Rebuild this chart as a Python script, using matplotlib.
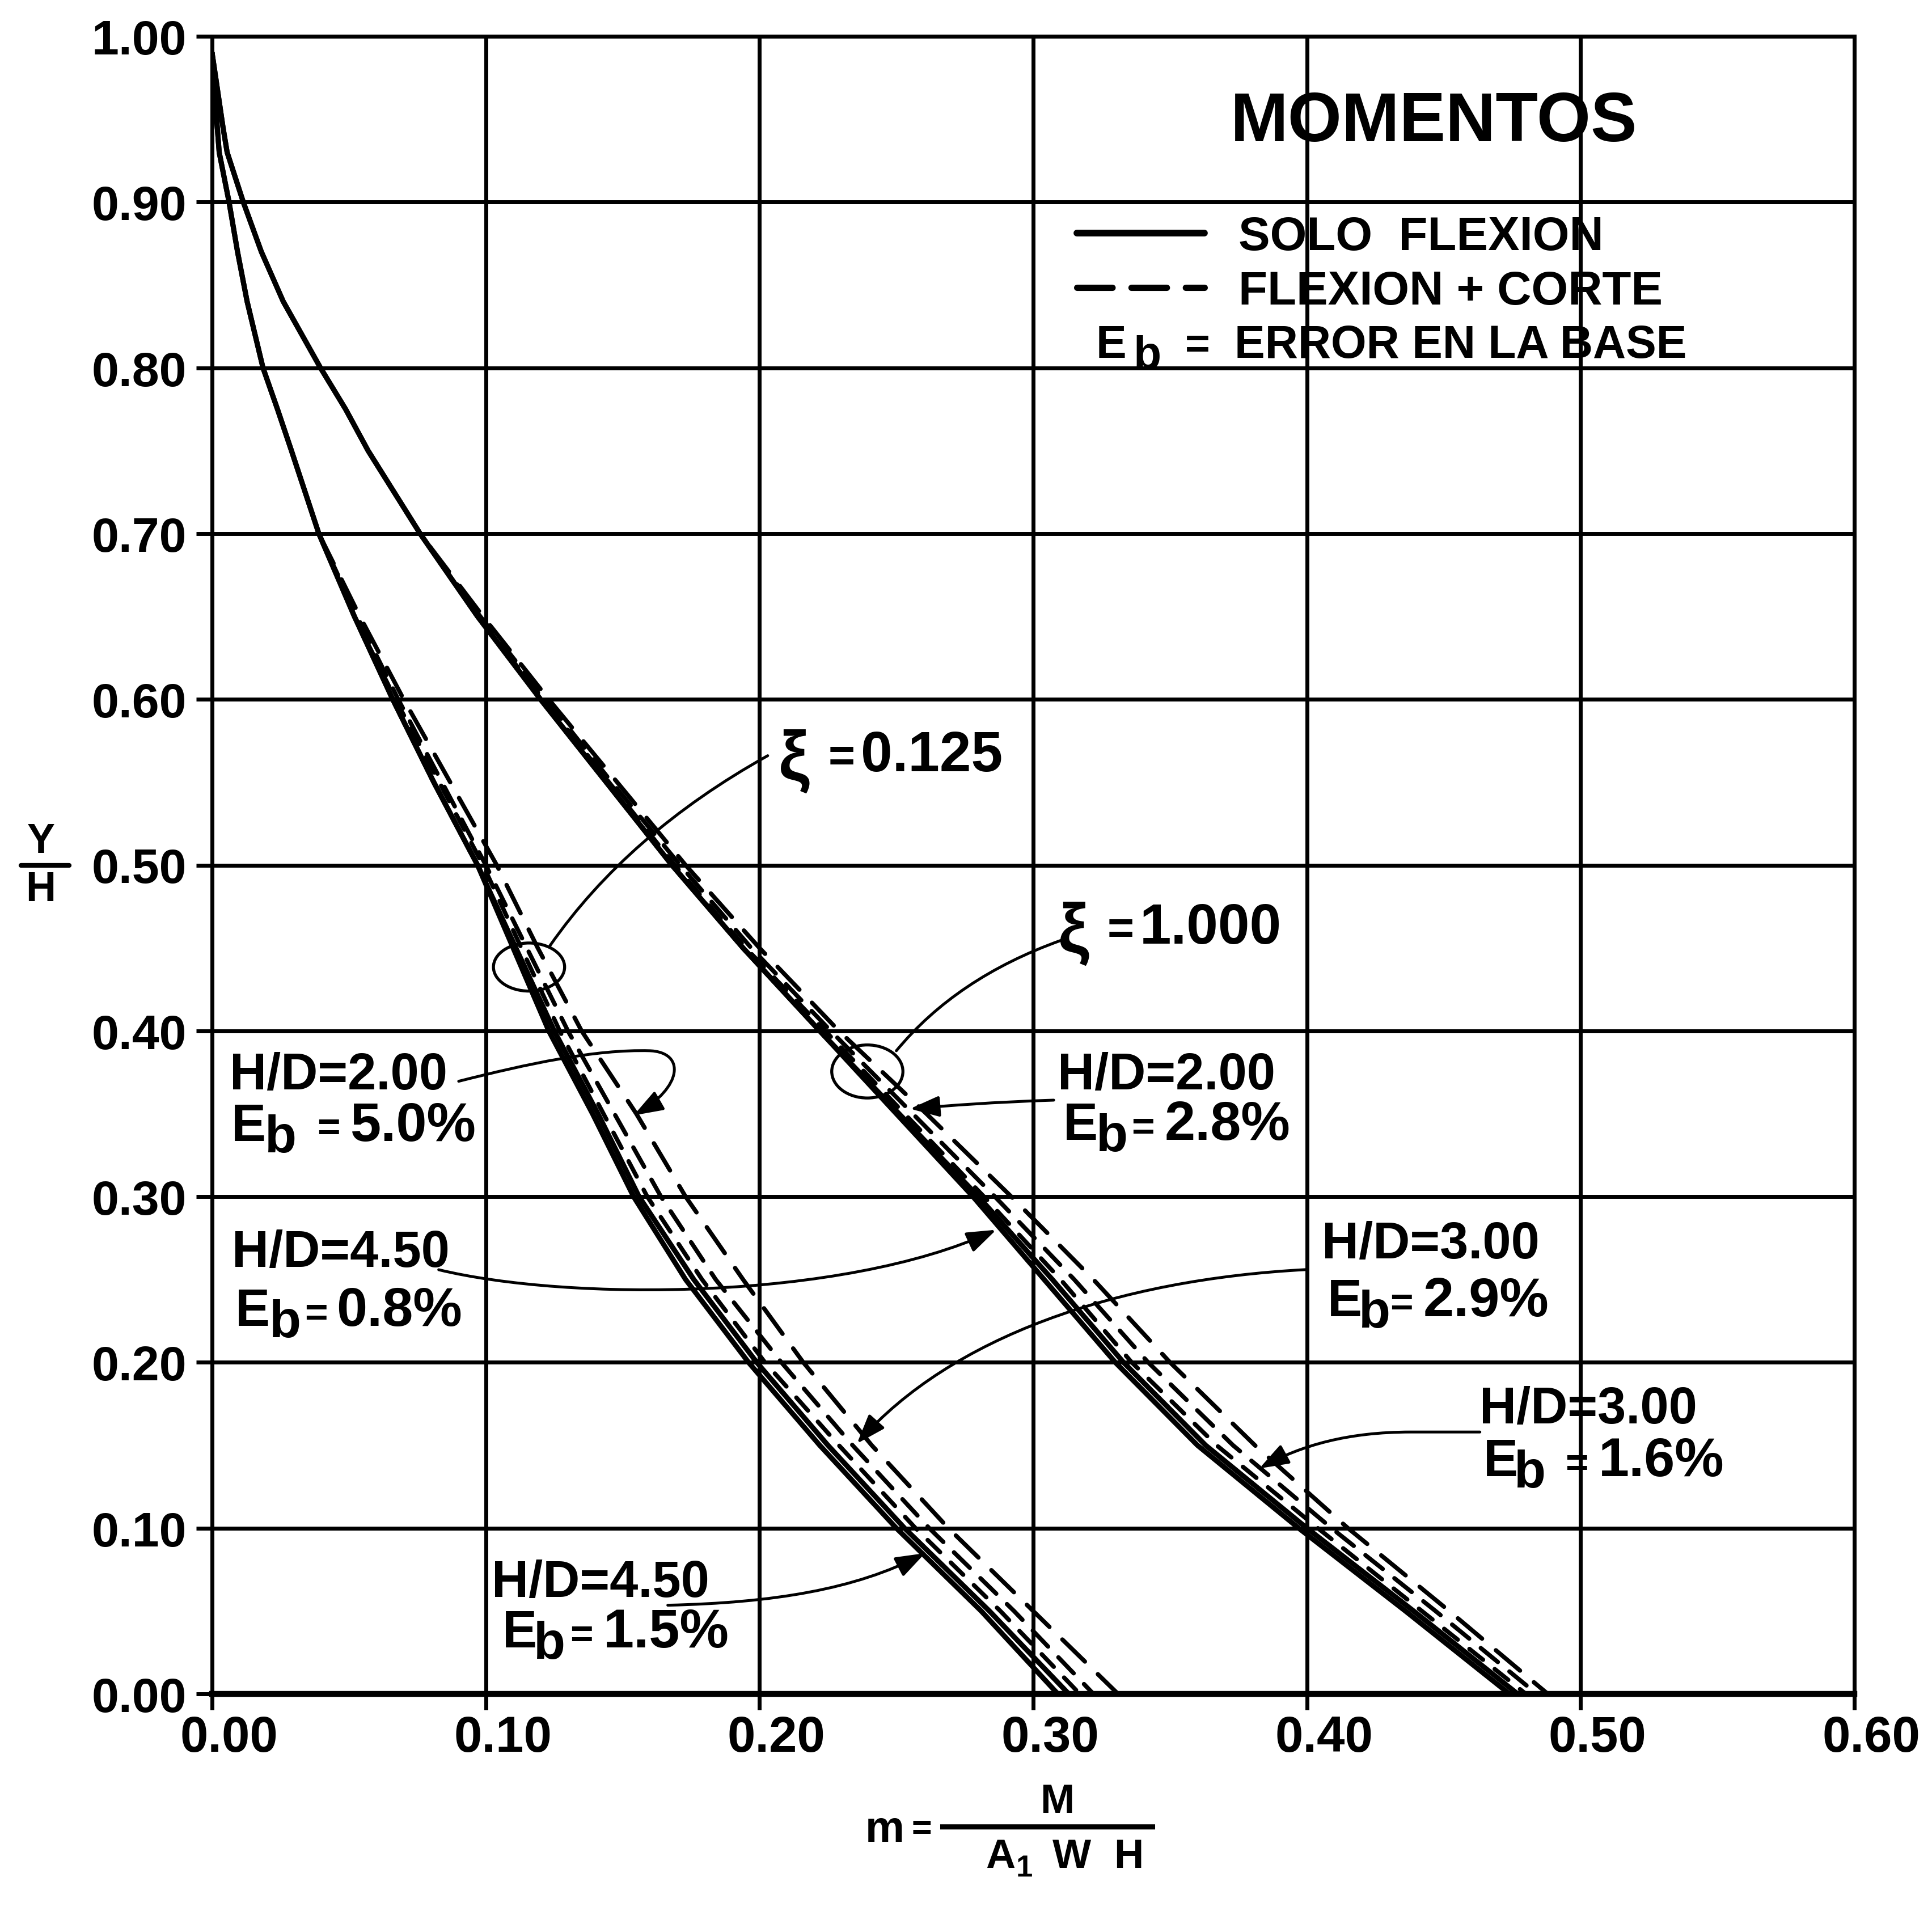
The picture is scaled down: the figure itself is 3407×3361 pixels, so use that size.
import matplotlib
matplotlib.use("Agg")
import matplotlib.pyplot as plt
from matplotlib.path import Path
from matplotlib.patches import FancyArrowPatch, Ellipse
from matplotlib.lines import Line2D
from matplotlib.transforms import ScaledTranslation

plt.rcParams['font.family'] = ['Liberation Sans', 'DejaVu Sans']
plt.rcParams['font.weight'] = 'bold'
plt.rcParams['lines.scale_dashes'] = False

# ---------------- data ----------------
Y_LEVELS = [0.99, 0.945, 0.93, 0.90, 0.87, 0.84, 0.80, 0.775, 0.75, 0.70, 0.65, 0.60,
            0.55, 0.50, 0.45, 0.40, 0.35, 0.30, 0.25, 0.20, 0.15, 0.10, 0.05, 0.00]

# xi = 0.125 group
XI0125_SOLID_A = [0.000, 0.0019, 0.0026, 0.0062, 0.0093, 0.0128, 0.0186, 0.0239, 0.029, 0.039, 0.052, 0.066,
                  0.081, 0.097, 0.110, 0.123, 0.139, 0.154, 0.173, 0.196, 0.222, 0.250, 0.281, 0.309]
XI0125_SOLID_B = [0.000, 0.0019, 0.0026, 0.0062, 0.0093, 0.0128, 0.0186, 0.0239, 0.029, 0.039, 0.052, 0.066,
                  0.081, 0.097, 0.111, 0.125, 0.141, 0.156, 0.176, 0.199, 0.225, 0.253, 0.284, 0.313]
XI0125_HD450 = [0.000, 0.0019, 0.0026, 0.0062, 0.0093, 0.0128, 0.0186, 0.0239, 0.029, 0.039, 0.052, 0.067,
                0.083, 0.099, 0.113, 0.127, 0.143, 0.159, 0.179, 0.202, 0.229, 0.257, 0.288, 0.317]
XI0125_HD300 = [0.000, 0.0019, 0.0026, 0.0062, 0.0093, 0.0128, 0.0186, 0.0239, 0.029, 0.039, 0.053, 0.068,
                0.084, 0.100, 0.115, 0.130, 0.147, 0.164, 0.184, 0.208, 0.234, 0.262, 0.293, 0.322]
XI0125_HD200 = [0.000, 0.0019, 0.0026, 0.0062, 0.0093, 0.0128, 0.0186, 0.0239, 0.029, 0.039, 0.054, 0.070,
                0.087, 0.104, 0.119, 0.135, 0.155, 0.173, 0.194, 0.216, 0.241, 0.269, 0.300, 0.331]

# xi = 1.000 group
XI1000_SOLID_A = [0.000, 0.0040, 0.0055, 0.0114, 0.018, 0.026, 0.0396, 0.0488, 0.057, 0.076, 0.097, 0.120,
                  0.144, 0.168, 0.194, 0.222, 0.250, 0.278, 0.304, 0.330, 0.360, 0.397, 0.436, 0.474]
XI1000_SOLID_B = [0.000, 0.0040, 0.0055, 0.0114, 0.018, 0.026, 0.0396, 0.0488, 0.057, 0.076, 0.097, 0.120,
                  0.144, 0.168, 0.194, 0.222, 0.251, 0.280, 0.307, 0.333, 0.363, 0.400, 0.439, 0.477]
XI1000_HD450 = [0.000, 0.0040, 0.0055, 0.0114, 0.018, 0.026, 0.0396, 0.0488, 0.057, 0.076, 0.097, 0.121,
                0.145, 0.169, 0.195, 0.224, 0.253, 0.282, 0.310, 0.336, 0.367, 0.404, 0.442, 0.480]
XI1000_HD300 = [0.000, 0.0040, 0.0055, 0.0114, 0.018, 0.026, 0.0396, 0.0488, 0.057, 0.076, 0.098, 0.122,
                0.146, 0.171, 0.197, 0.226, 0.256, 0.286, 0.315, 0.342, 0.373, 0.409, 0.447, 0.484]
XI1000_HD200 = [0.000, 0.0040, 0.0055, 0.0114, 0.018, 0.026, 0.0396, 0.0488, 0.057, 0.076, 0.099, 0.123,
                0.148, 0.173, 0.200, 0.229, 0.261, 0.292, 0.322, 0.350, 0.381, 0.415, 0.452, 0.488]

X_TICKS = [0.0, 0.1, 0.2, 0.3, 0.4, 0.5, 0.6]
X_TICK_LABELS = ["0.00", "0.10", "0.20", "0.30", "0.40", "0.50", "0.60"]
Y_TICKS = [0.0, 0.1, 0.2, 0.3, 0.4, 0.5, 0.6, 0.7, 0.8, 0.9, 1.0]
Y_TICK_LABELS = ["0.00", "0.10", "0.20", "0.30", "0.40", "0.50", "0.60", "0.70", "0.80", "0.90", "1.00"]

LEGEND_LABELS = ["SOLO  FLEXION", "FLEXION + CORTE"]

# ---------------- figure ----------------
W, H = 3407, 3362
DPI = 100
fig = plt.figure(figsize=(W / DPI, H / DPI), dpi=DPI, facecolor='white')
ax = fig.add_axes([374 / W, (H - 2988) / H, 2896 / W, 2923 / H])
ax.set_xlim(0.0, 0.6)
ax.set_ylim(0.0, 1.0)

SOLID_LW = 6.5
DASH_LW = 5.5
STYLE_SOLID = dict(color='black', lw=SOLID_LW, solid_capstyle='round', solid_joinstyle='round')
DASH_SHORT = dict(color='black', lw=DASH_LW, dashes=(22, 19), dash_capstyle='round')
DASH_MED = dict(color='black', lw=DASH_LW, dashes=(28, 19), dash_capstyle='round')
DASH_LONG = dict(color='black', lw=DASH_LW, dashes=(40, 23), dash_capstyle='round')

for series, style in [(XI0125_HD450, DASH_SHORT), (XI0125_HD300, DASH_MED), (XI0125_HD200, DASH_LONG),
                      (XI1000_HD450, DASH_SHORT), (XI1000_HD300, DASH_MED), (XI1000_HD200, DASH_LONG)]:
    ax.plot(series, Y_LEVELS, zorder=3, **style)
for series in [XI0125_SOLID_A, XI0125_SOLID_B, XI1000_SOLID_A, XI1000_SOLID_B]:
    ax.plot(series, Y_LEVELS, zorder=4, **STYLE_SOLID)

# ---------------- axes styling ----------------
ax.set_xticks(X_TICKS)
ax.set_xticklabels(X_TICK_LABELS)
ax.set_yticks(Y_TICKS)
ax.set_yticklabels(Y_TICK_LABELS)
ax.grid(True, color='black', lw=5, zorder=1)
ax.set_axisbelow(True)
for s in ['left', 'right', 'top']:
    ax.spines[s].set_linewidth(5)
ax.spines['bottom'].set_linewidth(7.5)
ax.tick_params(axis='x', direction='out', length=20, width=5, pad=6, labelsize=64)
ax.tick_params(axis='y', direction='out', length=20, width=5, pad=12, labelsize=62)
for tk in ax.xaxis.get_major_ticks():
    tk.label1.set_transform(tk.label1.get_transform() + ScaledTranslation(30 / DPI, 0, fig.dpi_scale_trans))

# ---------------- title & legend ----------------
ax.text(0.4465, 0.948, "MOMENTOS", fontsize=88, ha='center', va='center', zorder=6)

handles = [Line2D([], [], color='black', lw=8.5, solid_capstyle='round'),
           Line2D([], [], color='black', lw=8, dashes=(45, 24), dash_capstyle='round')]
leg = ax.legend(handles, LEGEND_LABELS, loc='center left', bbox_to_anchor=(0.316, 0.8625),
                bbox_transform=ax.transData, frameon=False, fontsize=60, handlelength=2.7,
                handletextpad=0.72, labelspacing=0.22, borderpad=0, borderaxespad=0)

ax.text(0.323, 0.8065, "E", fontsize=58, ha='left', va='baseline')
ax.text(0.3367, 0.8000, "b", fontsize=58, ha='left', va='baseline')
ax.text(0.360, 0.8065, "=", fontsize=54, ha='center', va='baseline')
ax.text(0.3735, 0.8065, "ERROR EN LA BASE", fontsize=58, ha='left', va='baseline')

# ---------------- xi labels with ellipses ----------------
ax.text(0.2070, 0.552, "ξ", fontsize=88, ha='left', va='baseline')
ax.text(0.2300, 0.557, "=", fontsize=58, ha='center', va='baseline')
ax.text(0.2370, 0.557, "0.125", fontsize=72, ha='left', va='baseline')
ax.text(0.3092, 0.4478, "ξ", fontsize=88, ha='left', va='baseline')
ax.text(0.3320, 0.4528, "=", fontsize=58, ha='center', va='baseline')
ax.text(0.3388, 0.4528, "1.000", fontsize=72, ha='left', va='baseline')

ax.add_patch(Ellipse((0.1158, 0.4385), 0.026, 0.029, fill=False, lw=3.8, color='black', zorder=5))
ax.add_patch(Ellipse((0.2394, 0.3755), 0.026, 0.032, fill=False, lw=3.8, color='black', zorder=5))

def leader(verts, codes, arrow=False):
    style = '-|>,head_length=0.45,head_width=0.16' if arrow else '-'
    p = FancyArrowPatch(path=Path(verts, codes), arrowstyle=style, mutation_scale=70,
                        color='black', lw=3.6, zorder=5)
    ax.add_patch(p)

M, C3, C4, L = Path.MOVETO, Path.CURVE3, Path.CURVE4, Path.LINETO
leader([(0.2030, 0.566), (0.152, 0.519), (0.1235, 0.4515)], [M, C3, C3])
leader([(0.3100, 0.4545), (0.272, 0.432), (0.2500, 0.3880)], [M, C3, C3])

# ---------------- H/D annotations ----------------
def hd_label(xh, yh, hd, xe, xb, xeq, xv, ye, val):
    ax.text(xh, yh, "H/D=" + hd, fontsize=65, ha='left', va='baseline')
    ax.text(xe, ye, "E", fontsize=66, ha='left', va='baseline')
    ax.text(xb, ye - 0.0068, "b", fontsize=66, ha='left', va='baseline')
    ax.text(xeq, ye + 0.0005, "=", fontsize=50, ha='center', va='baseline')
    ax.text(xv, ye, val, fontsize=70, ha='left', va='baseline')

hd_label(0.0065, 0.365, "2.00", 0.0070, 0.0192, 0.0425, 0.0505, 0.334, "5.0%")
hd_label(0.0073, 0.258, "4.50", 0.0085, 0.0210, 0.0380, 0.0455, 0.2223, "0.8%")
hd_label(0.4054, 0.2632, "3.00", 0.4075, 0.4190, 0.4345, 0.4425, 0.2283, "2.9%")
hd_label(0.4630, 0.1636, "3.00", 0.4644, 0.4757, 0.4985, 0.5065, 0.1316, "1.6%")
hd_label(0.1022, 0.0587, "4.50", 0.1060, 0.1175, 0.1350, 0.1430, 0.0283, "1.5%")
hd_label(0.3090, 0.365, "2.00", 0.3110, 0.3230, 0.3400, 0.3480, 0.3346, "2.8%")

leader([(0.0901, 0.3696), (0.115, 0.380), (0.140, 0.389), (0.160, 0.388),
        (0.173, 0.387), (0.172, 0.366), (0.1540, 0.349)], [M, C4, C4, C4, C4, C4, C4], arrow=True)
leader([(0.0828, 0.2559), (0.130, 0.237), (0.230, 0.237), (0.2865, 0.280)], [M, C4, C4, C4], arrow=True)
leader([(0.4000, 0.2560), (0.330, 0.250), (0.270, 0.215), (0.2356, 0.151)], [M, C4, C4, C4], arrow=True)
leader([(0.4632, 0.1580), (0.438, 0.158), (0.415, 0.158), (0.398, 0.150), (0.3826, 0.136)],
       [M, L, C4, C4, C4], arrow=True)
leader([(0.1665, 0.0535), (0.205, 0.055), (0.235, 0.063), (0.2605, 0.0849)], [M, C4, C4, C4], arrow=True)
leader([(0.3075, 0.3582), (0.285, 0.357), (0.270, 0.355), (0.2550, 0.3530)], [M, C4, C4, C4], arrow=True)

# ---------------- axis labels ----------------
fig.text(72 / W, 1 - 1485 / H, "Y", fontsize=53, ha='center', va='center')
fig.add_artist(Line2D([37 / W, 122 / W], [1 - 1527 / H, 1 - 1527 / H], color='black', lw=6,
                      solid_capstyle='round', transform=fig.transFigure))
fig.text(72 / W, 1 - 1570 / H, "H", fontsize=53, ha='center', va='center')

fig.text(1560 / W, 1 - 3228 / H, "m", fontsize=56, ha='center', va='center')
fig.text(1625 / W, 1 - 3228 / H, "=", fontsize=44, ha='center', va='center')
fig.add_artist(Line2D([1662 / W, 2032 / W], [1 - 3222 / H, 1 - 3222 / H], color='black', lw=6.5,
                      transform=fig.transFigure))
fig.text(1864 / W, 1 - 3178 / H, "M", fontsize=52, ha='center', va='center')
fig.text(1764 / W, 1 - 3275 / H, "A", fontsize=52, ha='center', va='center')
fig.text(1806 / W, 1 - 3295 / H, "1", fontsize=38, ha='center', va='center')
fig.text(1890 / W, 1 - 3275 / H, "W", fontsize=52, ha='center', va='center')
fig.text(1990 / W, 1 - 3275 / H, "H", fontsize=52, ha='center', va='center')

fig.savefig("out.png", dpi=DPI, facecolor='white')
